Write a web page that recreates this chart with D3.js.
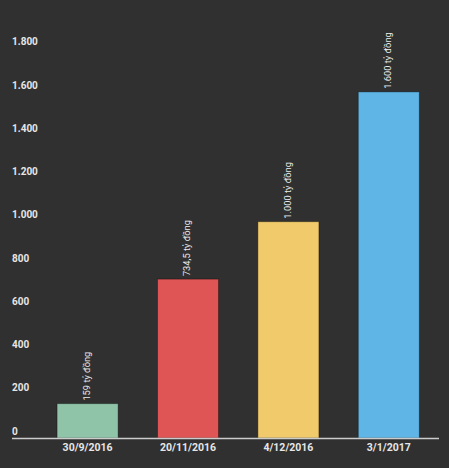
<!DOCTYPE html>
<html>
<head>
<meta charset="utf-8">
<script src="https://cdn.jsdelivr.net/npm/d3@7"></script>
<style>
  html, body { margin: 0; padding: 0; background: #303030; }
  svg { display: block; }
</style>
</head>
<body>
<div id="chart"></div>
<script>
const categories = ["30/9/2016", "20/11/2016", "4/12/2016", "3/1/2017"];
const values = [159, 734.5, 1000, 1600];
const colors = ["#8fc4a8", "#df5454", "#f0ca6b", "#5fb5e5"];
const yTicks = [0, 200, 400, 600, 800, 1000, 1200, 1400, 1600, 1800];
const unit = " tỷ đồng";

const W = 449, H = 468;
const vi = d3.formatLocale({ decimal: ",", thousands: ".", grouping: [3], currency: ["", ""] });
const fmt = vi.format(",");

const svg = d3.select("#chart").append("svg")
  .attr("width", W).attr("height", H);

svg.append("rect").attr("width", W).attr("height", H).attr("fill", "#303030");

const y = d3.scaleLinear().domain([0, 1800]).range([438, 48.6]);
const x = d3.scaleBand().domain(categories).range([37.4, 439]).padding(0);
const barW = x.bandwidth() * 0.608;

// y tick labels
svg.append("g").selectAll("text").data(yTicks).join("text")
  .attr("x", 12)
  .attr("y", d => y(d) - 6)
  .attr("dominant-baseline", "middle")
  .attr("fill", "#e6e6e6")
  .attr("font-family", "Roboto, Arial, sans-serif")
  .attr("font-weight", "bold")
  .attr("font-size", "10px")
  .text(d => fmt(d));

const data = categories.map((c, i) => ({ c, v: values[i], col: colors[i] }));

// bars
svg.append("g").selectAll("rect").data(data).join("rect")
  .attr("x", d => x(d.c) + (x.bandwidth() - barW) / 2)
  .attr("y", d => y(d.v))
  .attr("width", barW)
  .attr("height", d => y(0) - y(d.v))
  .attr("fill", d => d.col)
  .attr("stroke", "rgba(0,0,0,0.35)")
  .attr("stroke-width", 1);

// axis line
svg.append("line")
  .attr("x1", 12).attr("x2", 439)
  .attr("y1", 438.5).attr("y2", 438.5)
  .attr("stroke", "#cccccc").attr("stroke-width", 1.6);

// x labels
svg.append("g").selectAll("text").data(categories).join("text")
  .attr("x", d => x(d) + x.bandwidth() / 2)
  .attr("y", 448.5)
  .attr("text-anchor", "middle")
  .attr("dominant-baseline", "middle")
  .attr("fill", "#e6e6e6")
  .attr("font-family", "Roboto, Arial, sans-serif")
  .attr("font-weight", "bold")
  .attr("font-size", "10.5px")
  .text(d => d);

// value labels
svg.append("g").selectAll("text").data(data).join("text")
  .attr("transform", d => `translate(${x(d.c) + x.bandwidth() / 2},${y(d.v) - 3}) rotate(-90)`)
  .attr("text-anchor", "start")
  .attr("dominant-baseline", "middle")
  .attr("fill", "#ececec")
  .attr("font-family", "Roboto, Arial, sans-serif")
  .attr("font-size", "9.3px")
  .text(d => fmt(d.v) + unit);
</script>
</body>
</html>
